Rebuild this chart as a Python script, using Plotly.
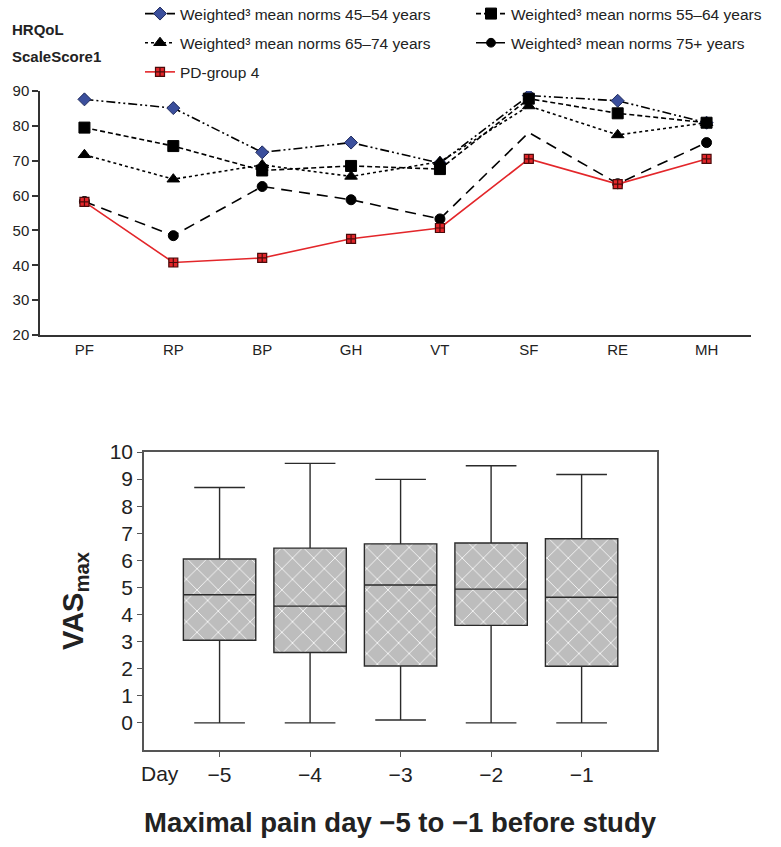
import plotly.graph_objects as go

# ---------------- data: top chart ----------------
scales = ["PF", "RP", "BP", "GH", "VT", "SF", "RE", "MH"]
norms_45_54 = [87.6, 85.1, 72.4, 75.2, 69.3, 88.7, 87.2, 80.9]
norms_55_64 = [79.5, 74.2, 67.2, 68.5, 67.6, 87.8, 83.6, 80.9]
norms_65_74 = [71.7, 64.7, 68.8, 65.5, 69.7, 85.7, 77.4, 80.9]
norms_75_plus = [58.3, 48.5, 62.6, 58.8, 53.3, 78.1, 63.4, 75.2]
pd_group_4 = [58.2, 40.8, 42.1, 47.6, 50.7, 70.5, 63.3, 70.5]

# ---------------- data: bottom chart ----------------
days = [-5, -4, -3, -2, -1]
day_labels = ["−5", "−4", "−3", "−2", "−1"]
vas_lower = [0.0, 0.0, 0.11, 0.0, 0.0]
vas_q1 = [3.05, 2.6, 2.1, 3.6, 2.09]
vas_median = [4.73, 4.31, 5.09, 4.94, 4.64]
vas_q3 = [6.05, 6.45, 6.61, 6.64, 6.8]
vas_upper = [8.69, 9.58, 8.99, 9.49, 9.17]
vas_ticks = list(range(0, 11))

W, H = 781, 847
FONT = "Liberation Sans, Arial, sans-serif"
NARROW = "Liberation Sans Narrow, Arial Narrow, Liberation Sans, Arial, sans-serif"

def px_x(p):
    return p / W

def px_y(p):
    return 1 - p / H

fig = go.Figure()

# the original shows no circle marker at SF for the 75+ series
circle_sizes = [0 if s == "SF" else 10 for s in scales]

series = [
    ("Weighted³ mean norms 45–54 years", norms_45_54, "legend", "diamond",
     "#3b4f9c", "#1f2a5c", 10, "9px,3px,2px,3px,2px,3px"),
    ("Weighted³ mean norms 55–64 years", norms_55_64, "legend2", "square",
     "black", "black", 11, "5px,3px"),
    ("Weighted³ mean norms 65–74 years", norms_65_74, "legend", "triangle-up",
     "black", "black", 11, "3px,3px"),
    ("Weighted³ mean norms 75+ years", norms_75_plus, "legend2", "circle",
     "black", "black", circle_sizes, "11px,7px"),
]
for name, vals, leg, sym, fc, lc, sz, dash in series:
    fig.add_trace(go.Scatter(
        x=scales, y=vals, name=name, mode="lines+markers",
        line=dict(color="black", width=1.6, dash=dash),
        marker=dict(symbol=sym, color=fc, size=sz, opacity=1,
                    line=dict(color=lc, width=1)),
        legend=leg, legendgroup=name, xaxis="x", yaxis="y",
    ))
fig.add_trace(go.Scatter(
    x=scales, y=pd_group_4, name="PD-group 4", mode="lines+markers",
    line=dict(color="#e3262a", width=1.6),
    marker=dict(symbol="square-cross", color="#e3262a", size=9,
                line=dict(color="#4a0a0a", width=1.2)),
    legend="legend", legendgroup="pd", xaxis="x", yaxis="y",
))

# ---------------- bottom chart: box plot ----------------
iqr = [q3 - q1 for q1, q3 in zip(vas_q1, vas_q3)]
fig.add_trace(go.Bar(
    x=days, y=iqr, base=vas_q1, width=0.8, showlegend=False,
    marker=dict(color="#bdbdbd", line=dict(width=0),
                pattern=dict(shape="x", bgcolor="#bdbdbd", fgcolor="white",
                             size=15, solidity=0.1, fillmode="replace")),
    hoverinfo="skip", xaxis="x2", yaxis="y2",
))
fig.add_trace(go.Box(
    x=days, q1=vas_q1, median=vas_median, q3=vas_q3,
    lowerfence=vas_lower, upperfence=vas_upper, width=0.8,
    fillcolor="rgba(0,0,0,0)", line=dict(color="#2b2b2b", width=1.4),
    whiskerwidth=0.7, boxpoints=False, showlegend=False,
    xaxis="x2", yaxis="y2",
))

fig.update_layout(
    width=W, height=H,
    margin=dict(l=0, r=0, t=0, b=0, autoexpand=False),
    paper_bgcolor="white", plot_bgcolor="white",
    font=dict(family=FONT, color="#222", size=15),
    boxmode="overlay", barmode="overlay",
    xaxis=dict(domain=[px_x(40), px_x(751)], type="category",
               range=[-0.5, 7.5], showline=True, linecolor="#333", linewidth=1.5,
               ticks="", showgrid=False, zeroline=False,
               tickfont=dict(size=15, color="#222"), anchor="y"),
    yaxis=dict(domain=[px_y(335), px_y(91)], range=[20, 90], dtick=10,
               showline=True, linecolor="#333", linewidth=1.5,
               ticks="outside", ticklen=6, tickcolor="#333", tickwidth=1.5,
               showgrid=False, zeroline=False,
               tickfont=dict(size=15, color="#222"), anchor="x"),
    xaxis2=dict(domain=[px_x(144), px_x(657)], range=[-5.835, -0.167],
                tickvals=days, ticktext=day_labels,
                showline=True, mirror=True, linecolor="#555", linewidth=1.5,
                ticks="outside", ticklen=5, tickcolor="#555",
                showgrid=False, zeroline=False,
                tickfont=dict(size=21, color="#222", family=NARROW), anchor="y2"),
    yaxis2=dict(domain=[px_y(750), px_y(452)], range=[-1, 10],
                tickvals=vas_ticks,
                showline=True, mirror=True, linecolor="#555", linewidth=1.5,
                ticks="outside", ticklen=5, tickcolor="#555",
                showgrid=False, zeroline=False,
                tickfont=dict(size=21, color="#222"),
                title=dict(text="<b>VAS<sub>max</sub></b>", standoff=18,
                           font=dict(size=29, color="#222")),
                anchor="x2"),
    legend=dict(x=px_x(140), y=px_y(-3), xanchor="left", yanchor="top",
                orientation="v", traceorder="grouped", tracegroupgap=6,
                font=dict(size=15.5, color="#222"), bgcolor="rgba(0,0,0,0)"),
    legend2=dict(x=px_x(471), y=px_y(-3), xanchor="left", yanchor="top",
                 orientation="v", traceorder="grouped", tracegroupgap=6,
                 font=dict(size=15.5, color="#222"), bgcolor="rgba(0,0,0,0)"),
    annotations=[
        dict(text="<b>HRQoL</b>", x=px_x(10), y=px_y(30), xref="paper", yref="paper",
             xanchor="left", yanchor="middle", showarrow=False,
             font=dict(size=15, color="#222")),
        dict(text="<b>ScaleScore1</b>", x=px_x(10), y=px_y(57), xref="paper", yref="paper",
             xanchor="left", yanchor="middle", showarrow=False,
             font=dict(size=15, color="#222")),
        dict(text="Day", x=px_x(160), y=px_y(773), xref="paper", yref="paper",
             xanchor="center", yanchor="middle", showarrow=False,
             font=dict(size=21, color="#222", family=NARROW)),
        dict(text="<b>Maximal pain day −5 to −1 before study</b>",
             x=px_x(400), y=px_y(822), xref="paper", yref="paper",
             xanchor="center", yanchor="middle", showarrow=False,
             font=dict(size=27.5, color="#222", family=NARROW)),
    ],
)

fig.write_html("out.html",
               config={"displayModeBar": False},
               post_script="document.body.style.margin='0px';document.body.style.overflow='hidden';")
